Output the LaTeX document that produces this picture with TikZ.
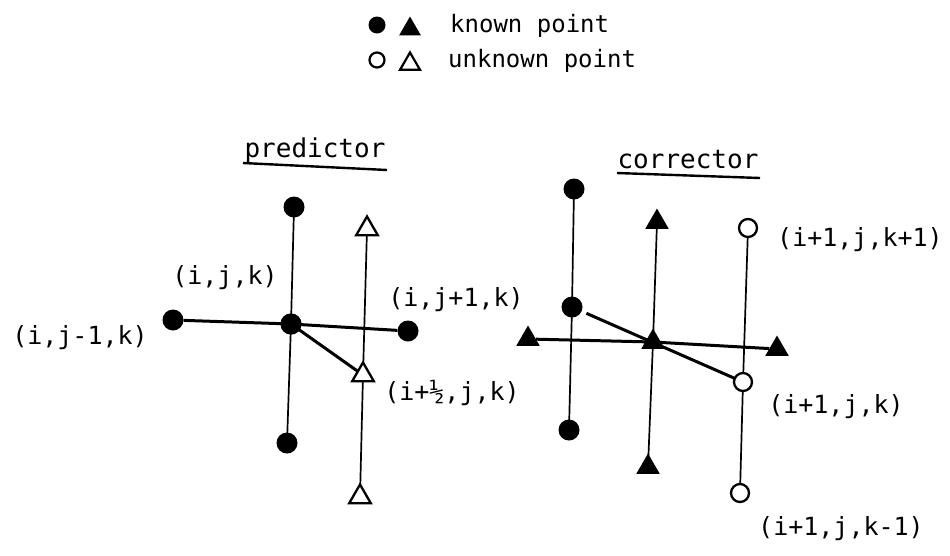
\documentclass[tikz,border=0pt]{standalone}
\usepackage{fontspec}
\setmonofont{DejaVu Sans Mono}
\usetikzlibrary{shapes.geometric}
\begin{document}
\begin{tikzpicture}[x=1pt,y=-1pt,
  kdot/.style={circle,fill=black,inner sep=0pt,minimum size=21pt},
  udot/.style={circle,draw=black,fill=white,line width=2.3pt,inner sep=0pt,minimum size=18pt},
  ktri/.style={regular polygon,regular polygon sides=3,fill=black,inner sep=0pt,minimum size=27pt},
  utri/.style={regular polygon,regular polygon sides=3,draw=black,fill=white,line width=2.3pt,inner sep=0pt,minimum size=25pt},
  lkdot/.style={circle,fill=black,inner sep=0pt,minimum size=17pt},
  ludot/.style={circle,draw=black,fill=white,line width=2.2pt,inner sep=0pt,minimum size=15pt},
  lktri/.style={regular polygon,regular polygon sides=3,fill=black,inner sep=0pt,minimum size=25pt},
  lutri/.style={regular polygon,regular polygon sides=3,draw=black,fill=white,line width=2.2pt,inner sep=0pt,minimum size=23pt},
  lbl/.style={inner sep=0pt,font=\fontsize{25}{30}\selectfont\ttfamily},
  leg/.style={inner sep=0pt,font=\fontsize{24}{28}\selectfont\ttfamily},
  ttl/.style={inner sep=0pt,font=\fontsize{26}{30}\selectfont\ttfamily},
  thin/.style={line width=1.7pt},
  thick line/.style={line width=3pt},
  uline/.style={line width=2.4pt}
]
\useasboundingbox[fill=white] (0,0) rectangle (950,555);

% legend
\node[lkdot] (lk1) at (377,25) {};
\node[lktri] (lk2) at (410,29) {};
\node[leg,anchor=base west] (lkt) at (450,32) {known point};
\node[ludot] (lu1) at (377,60) {};
\node[lutri] (lu2) at (410,64) {};
\node[leg,anchor=base west] (lut) at (448,67) {unknown point};

% titles
\node[ttl,anchor=base] (ptitle) at (315,157) {predictor};
\coordinate (pu1) at (243,163);
\coordinate (pu2) at (387,170);
\draw[uline] (pu1) -- (pu2);
\node[ttl,anchor=base] (ctitle) at (688,168) {corrector};
\coordinate (cu1) at (617,173);
\coordinate (cu2) at (760,178);
\draw[uline] (cu1) -- (cu2);

% predictor stencil
\draw[thin] (294,207) coordinate (pTc) -- (291,324) coordinate (pCc) -- (287,443) coordinate (pBc);
\draw[thin] (367,229) coordinate (ptTc) -- (363,375) coordinate (ptMc) -- (360,497) coordinate (ptBc);
\node[kdot] (pT) at (pTc) {};
\node[kdot] (pB) at (pBc) {};
\node[kdot] (pL) at (173,320) {};
\node[kdot] (pR) at (408,331) {};
\node[kdot] (pC) at (pCc) {};
\draw[thick line] (pL) -- (pC.center) -- (pR);
\draw[thick line] (pC.center) -- (ptMc);
\node[kdot] (pC2) at (pCc) {};
\node[utri] (ptT) at (ptTc) {};
\node[utri] (ptM) at (ptMc) {};
\node[utri] (ptB) at (ptBc) {};

\node[lbl] (l1) at (225,278) {(i,j,k)};
\node[lbl] (l2) at (80,338) {(i,j-1,k)};
\node[lbl] (l3) at (456,300) {(i,j+1,k)};
\node[lbl] (l4) at (452,393) {(i+½,j,k)};

% corrector stencil
\draw[thin] (574,189) coordinate (cTc) -- (572,307) coordinate (cMc) -- (569,430) coordinate (cBc);
\draw[thin] (657,222) coordinate (ctTc) -- (653,342) coordinate (ctCc) -- (648,467) coordinate (ctBc);
\draw[thin] (748,228) coordinate (ocTc) -- (743,382) coordinate (ocMc) -- (740,493) coordinate (ocBc);
\node[kdot] (cT) at (cTc) {};
\node[kdot] (cM) at (cMc) {};
\node[kdot] (cB) at (cBc) {};
\node[ktri] (ctT) at (ctTc) {};
\node[ktri] (ctB) at (ctBc) {};
\node[ktri] (ctL) at (528,339) {};
\node[ktri] (ctR) at (777,349) {};
\node[ktri] (ctC) at (ctCc) {};
\draw[thick line] (ctL) -- (ctC.center) -- (ctR);
\draw[thick line,shorten <=5pt] (cM) -- (ocMc);
\node[udot] (ocT) at (ocTc) {};
\node[udot] (ocM) at (ocMc) {};
\node[udot] (ocB) at (ocBc) {};

\node[lbl] (l5) at (860,240) {(i+1,j,k+1)};
\node[lbl] (l6) at (836,407) {(i+1,j,k)};
\node[lbl] (l7) at (841,529) {(i+1,j,k-1)};
\end{tikzpicture}
\end{document}
